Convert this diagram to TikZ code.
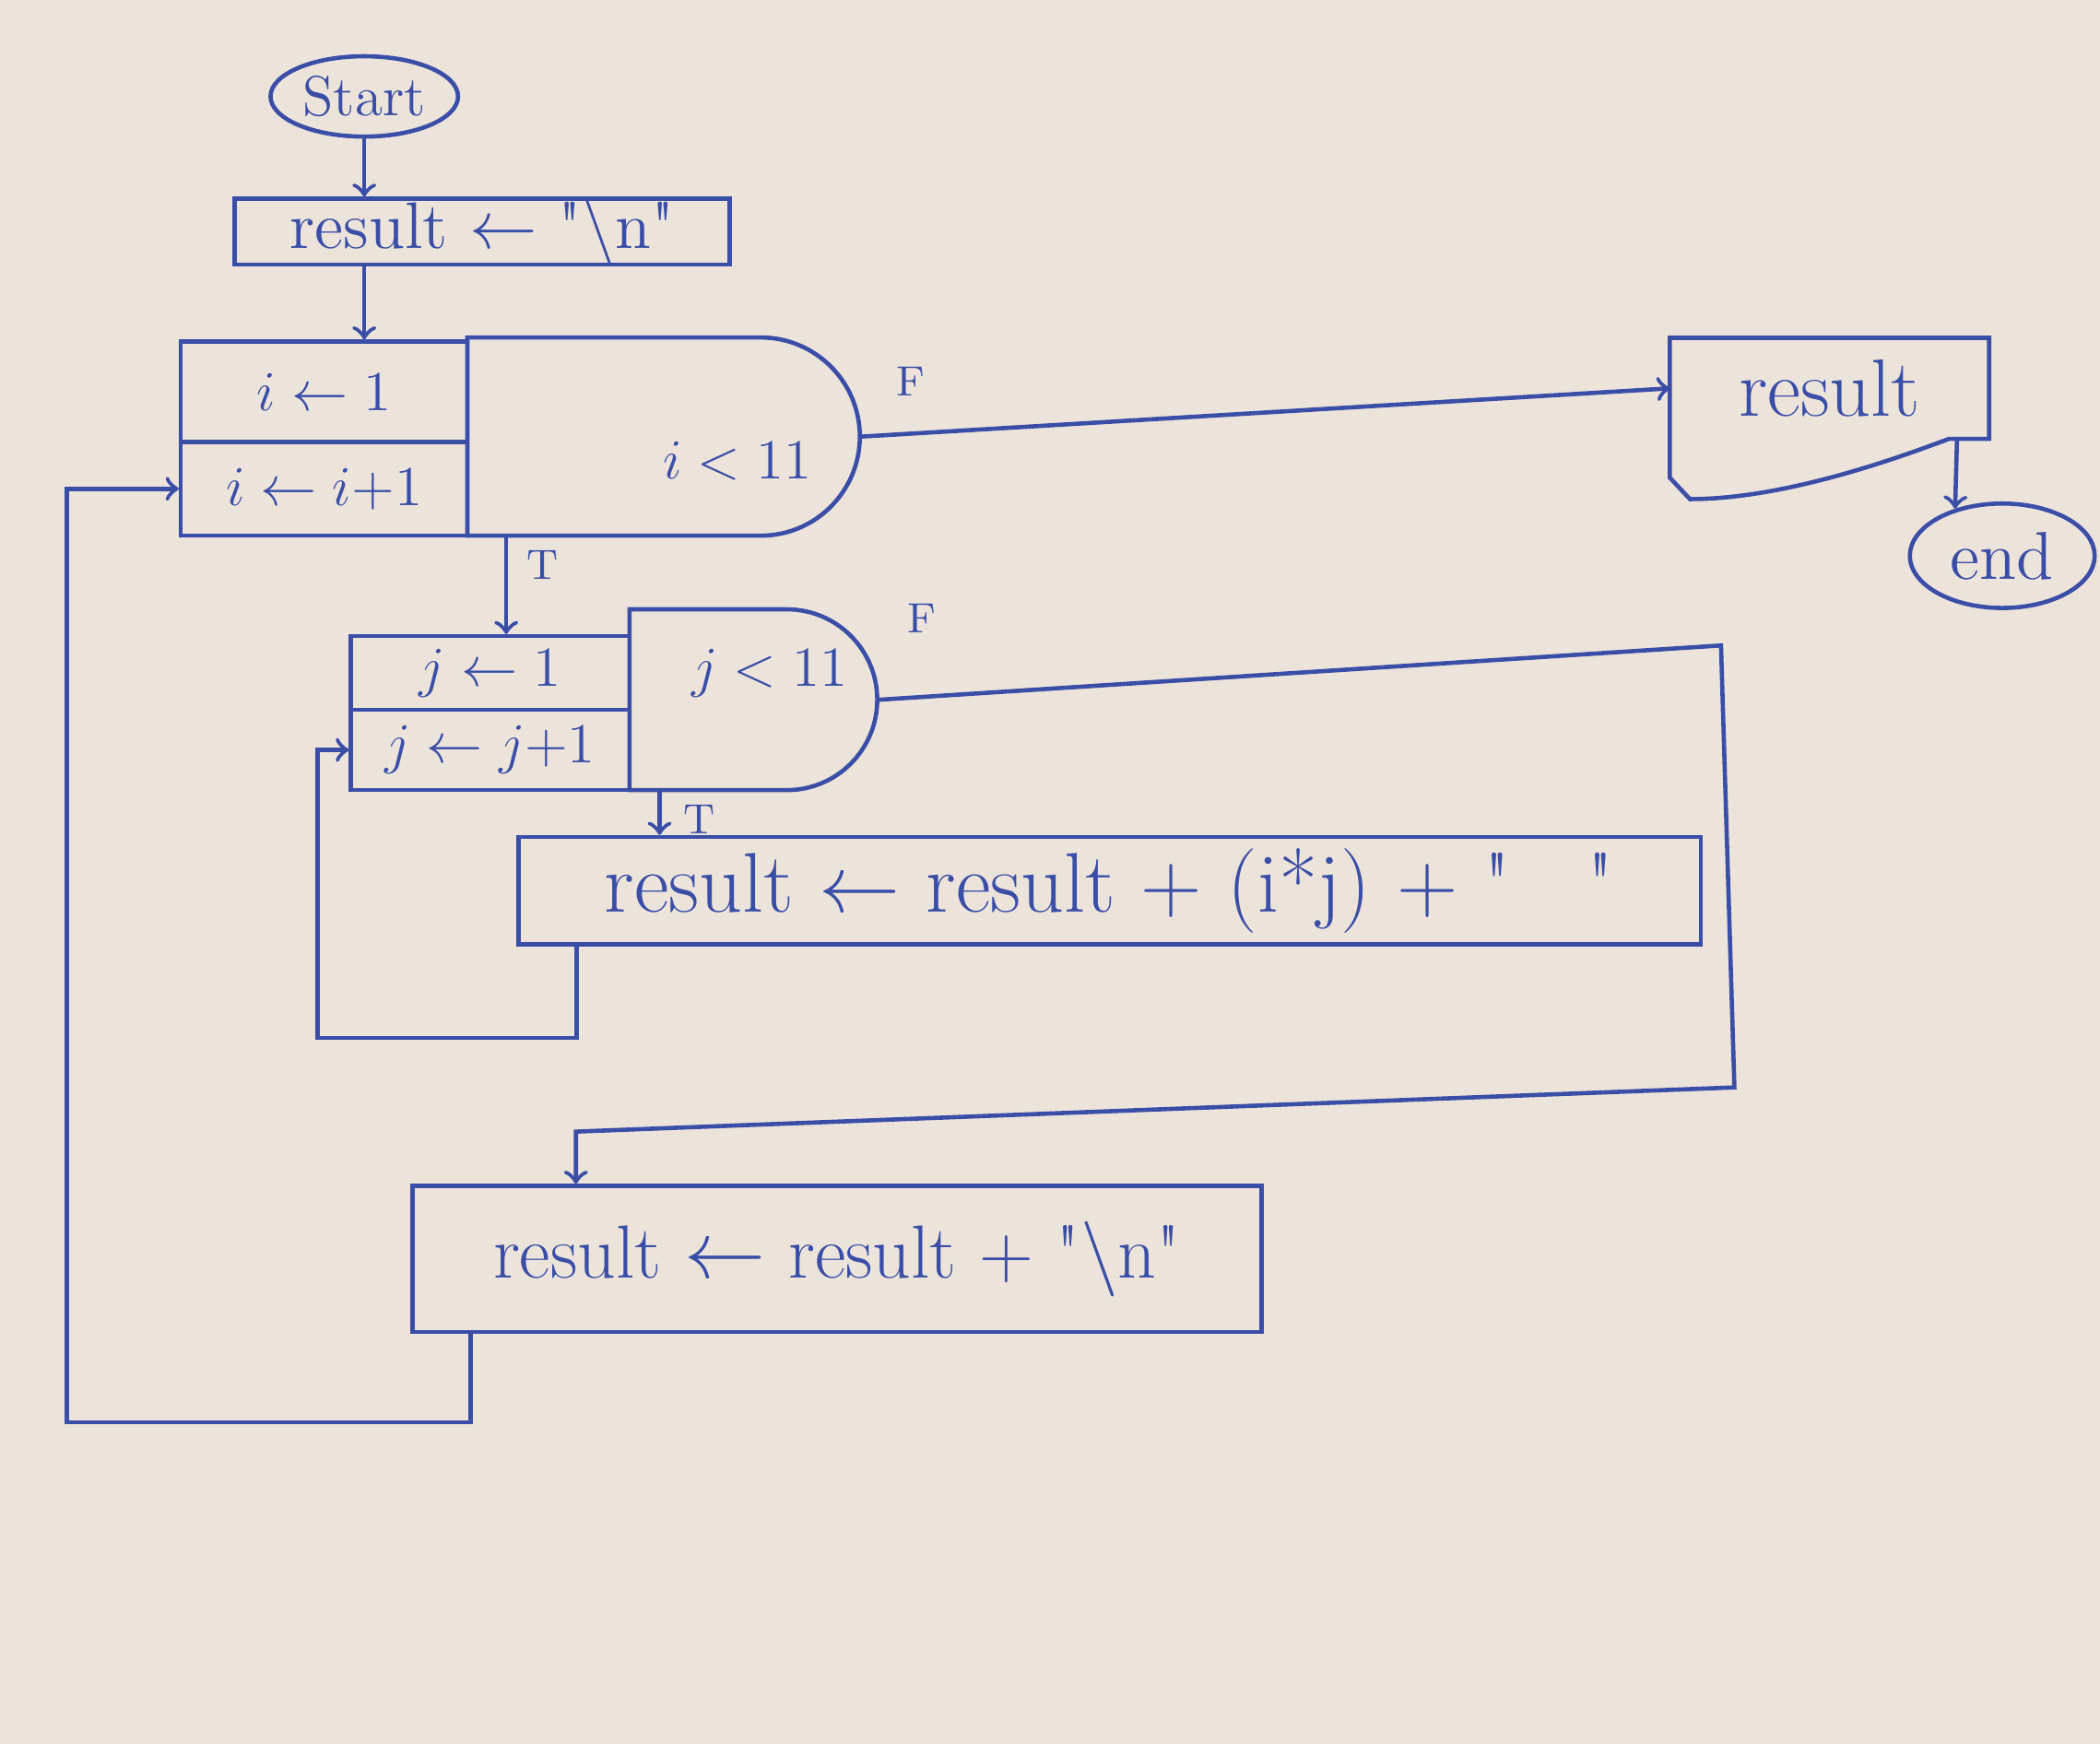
\documentclass[tikz,border=0pt]{standalone}
\usepackage{tikz}
\usepackage{amsmath}
\usepackage{amssymb}
\usetikzlibrary{shapes.geometric,shapes.misc}
\definecolor{ink}{RGB}{58,78,168}
\definecolor{paper}{RGB}{236,228,218}

\begin{document}
\begin{tikzpicture}
\tikzstyle{every node}+=[inner sep=0pt, text=ink]
\tikzstyle{term}=[draw=ink, ellipse, line width=0.9pt]
\tikzstyle{procbox}=[draw=ink, rectangle, line width=0.9pt]
\tikzstyle{cell}=[draw=ink, rectangle, line width=0.9pt, font=\fontsize{12}{14}\selectfont]
\tikzstyle{cond}=[draw=ink, rounded rectangle, rounded rectangle west arc=none, line width=0.9pt]
\tikzstyle{lbl}=[font=\small]
\tikzstyle{flow}=[draw=ink, line width=0.9pt]
\useasboundingbox (0,0) rectangle (15.68,-13.02);
\fill [paper] (0,0) rectangle (15.68,-13.02);
% start and first assignment
\node [term, minimum width=1.4cm, minimum height=0.6cm, font=\large] (start) at (2.72,-0.72) {Start};
\node [procbox, minimum width=3.7cm, minimum height=0.46cm, font=\fontsize{14}{16}\selectfont] (resinit) at (3.60,-1.73) {result $\leftarrow$ \textquotedbl\textbackslash n\textquotedbl};
\draw [flow,->] (start.south) -- (start.south |- resinit.north);
% outer loop over i
\node [cell, minimum width=2.14cm, minimum height=0.75cm] (iinit) at (2.42,-2.925) {$i \leftarrow 1$};
\node [cell, minimum width=2.14cm, minimum height=0.70cm] (iinc) at (2.42,-3.65) {$i \leftarrow i{+}1$};
\node [cond, minimum width=2.93cm, minimum height=1.48cm,
  label={[xshift=5.5mm,yshift=-1.8mm,font=\fontsize{12}{14}\selectfont]center:$i<11$}] (icond) at (4.955,-3.26) {};
\draw [flow,->] (start.south |- resinit.south) -- (start.south |- iinit.north);
% output and end
\node [minimum width=2.37cm, minimum height=0.74cm, font=\LARGE] (out) at (13.66,-2.90) {result};
\draw [flow] (out.north west) -- ([yshift=-2.9mm]out.south west) -- ([xshift=1.5mm,yshift=-4.5mm]out.south west)
  .. controls +(0.7,0) and +(-0.4,-0.15) .. ([xshift=-3mm]out.south east) -- (out.south east) -- (out.north east) -- cycle;
\node [term, minimum width=1.38cm, minimum height=0.78cm, font=\Large] (end) at (14.95,-4.15) {end};
\draw [flow,->] (icond.east) -- (out.west);
\node [lbl] (ifalse) at (6.80,-2.85) {F};
\draw [flow,->] ([xshift=-2.4mm]out.south east) -- (end.135);
% inner loop over j
\node [cell, minimum width=2.08cm, minimum height=0.55cm] (jinit) at (3.66,-5.025) {$j \leftarrow 1$};
\node [cell, minimum width=2.08cm, minimum height=0.60cm] (jinc) at (3.66,-5.60) {$j \leftarrow j{+}1$};
\node [cond, minimum width=1.85cm, minimum height=1.35cm,
  label={[xshift=1.2mm,yshift=2mm,font=\fontsize{12}{14}\selectfont]center:$j<11$}] (jcond) at (5.625,-5.225) {};
\coordinate (iT) at ([xshift=-11.75mm]icond.south);
\draw [flow,->] (iT) -- (iT |- jinit.north);
\node [lbl] (itrue) at (4.05,-4.22) {T};
\node [lbl] (jfalse) at (6.88,-4.62) {F};
% body
\node [procbox, minimum width=8.83cm, minimum height=0.80cm, font=\fontsize{18}{22}\selectfont] (inner) at (8.285,-6.65) {result $\leftarrow$ result + (i*j) + \textquotedbl\ \ \ \textquotedbl};
\coordinate (jT) at ([xshift=-7mm]jcond.south);
\draw [flow,->] (jT) -- (jT |- inner.north);
\node [lbl] (jtrue) at (5.22,-6.12) {T};
\coordinate (jback) at (2.37,-7.75);
\draw [flow,->] ([xshift=4.5mm]inner.south west) |- (jback) |- (jinc.west);
% newline after each row
\node [procbox, minimum width=6.34cm, minimum height=1.09cm, font=\fontsize{16}{19}\selectfont] (newline) at (6.25,-9.40) {result $\leftarrow$ result + \textquotedbl\textbackslash n\textquotedbl};
\coordinate (jtop) at (12.85,-4.82);
\coordinate (jbot) at (12.95,-8.12);
\coordinate (jleft) at (4.30,-8.45);
\draw [flow,->] (jcond.east) -- (jtop) -- (jbot) -- (jleft) -- (jleft |- newline.north);
\coordinate (iback) at (0.50,-10.62);
\draw [flow,->] ([xshift=4.5mm]newline.south west) |- (iback) |- (iinc.west);
\end{tikzpicture}
\end{document}
